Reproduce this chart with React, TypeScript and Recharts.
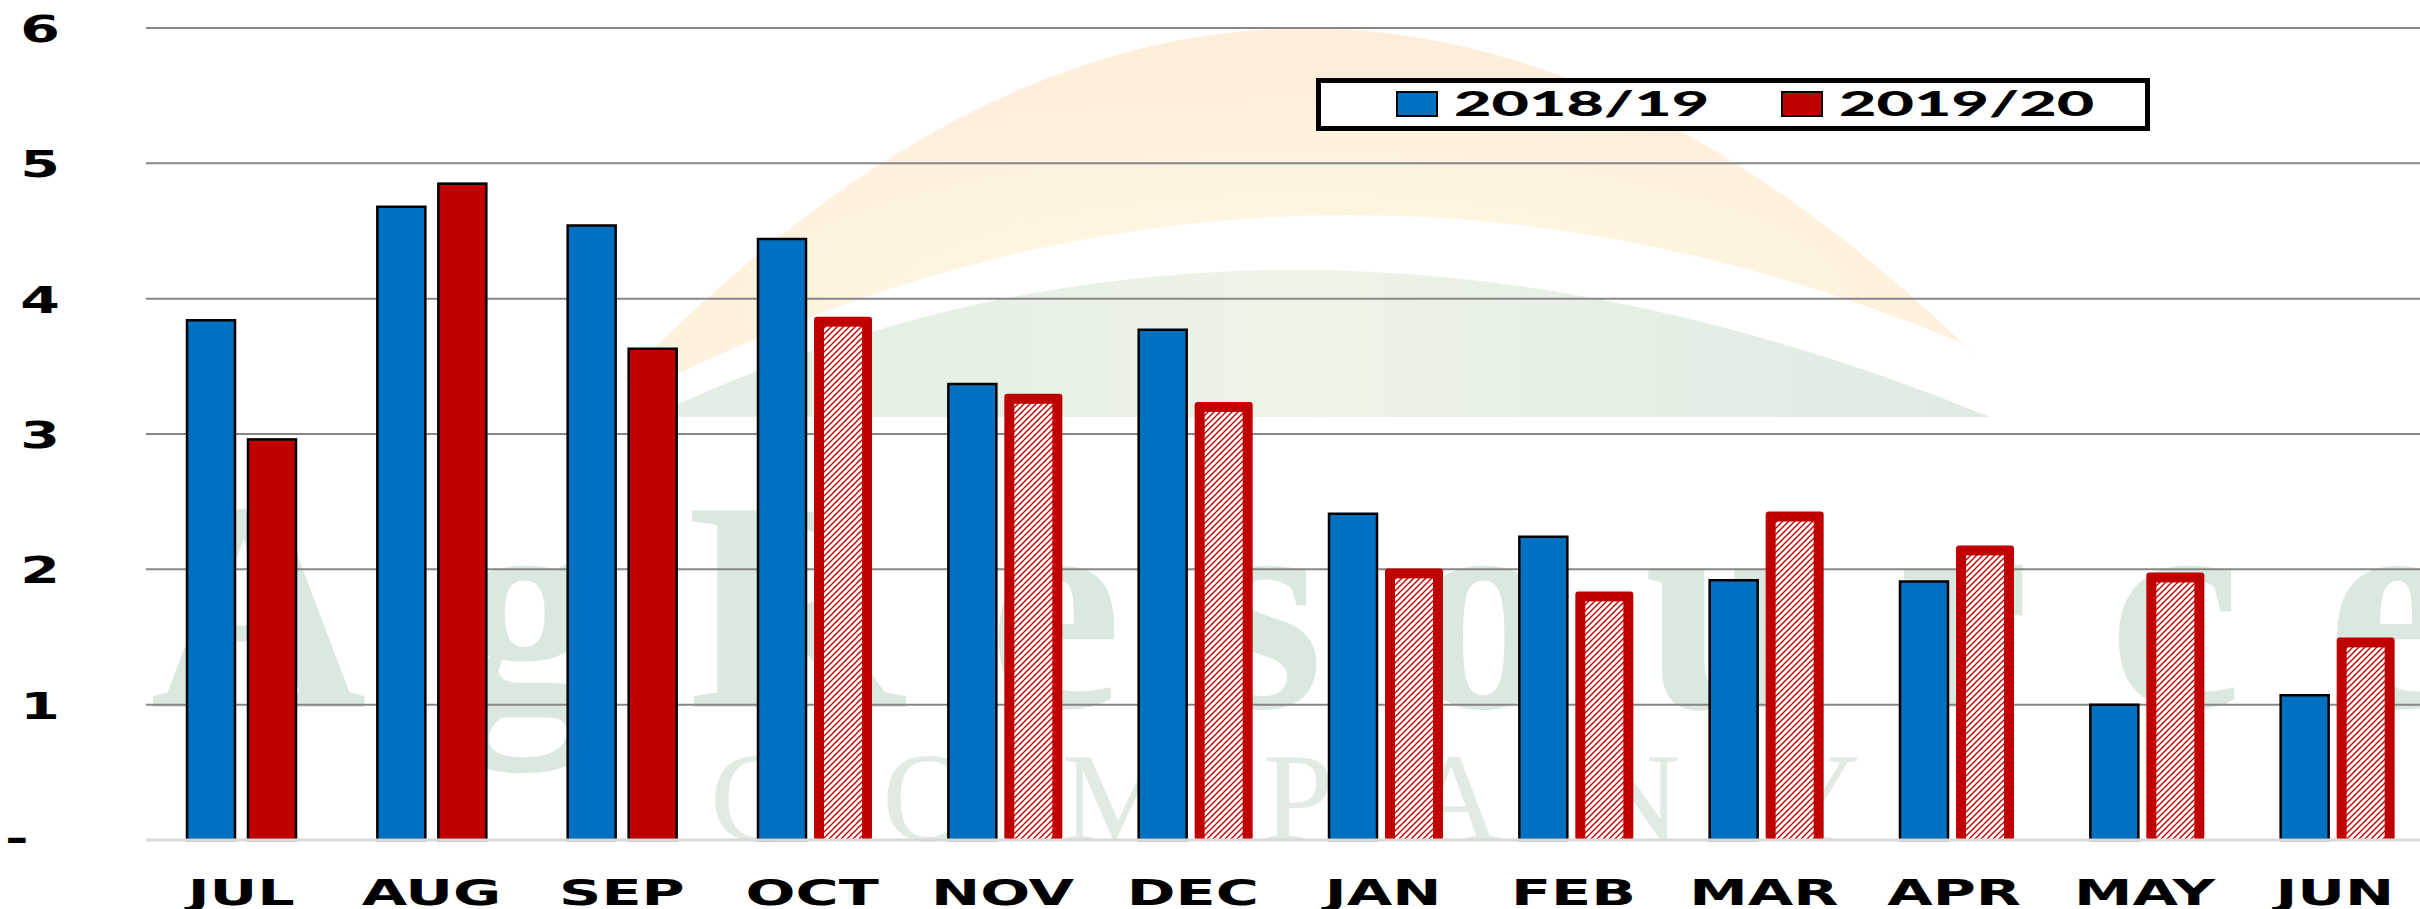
import React from "react"
import { BarChart, Bar, XAxis, YAxis, CartesianGrid, Legend } from "recharts"

// monthly values, marketing years Jul-Jun
const months = ["JUL", "AUG", "SEP", "OCT", "NOV", "DEC", "JAN", "FEB", "MAR", "APR", "MAY", "JUN"]
const season1819 = [3.84, 4.68, 4.54, 4.44, 3.37, 3.77, 2.41, 2.24, 1.92, 1.91, 1.0, 1.07]
const season1920 = [2.96, 4.85, 3.63, 3.83, 3.26, 3.2, 1.97, 1.8, 2.39, 2.14, 1.94, 1.46]
const actualMonths2019 = 3 // JUL-SEP reported, OCT onward projected (hatched)
const yTicks = [0, 1, 2, 3, 4, 5, 6]

const data = months.map((month, i) => ({ month, s1819: season1819[i], s1920: season1920[i] }))

const BLUE = "#0070C0"
const RED = "#C00000"

function MonthTick({ x, y, payload }: any) {
  return (
    <g transform={`translate(${x},${y + 65})`}>
      <text
        transform="scale(1.68,1)"
        textAnchor="middle"
        fontFamily="DejaVu Sans"
        fontWeight="bold"
        fontSize={35}
        fill="#000"
      >
        {payload.value}
      </text>
    </g>
  )
}

function ValueTick({ y, payload }: any) {
  const zero = payload.value === 0
  return (
    <g transform={zero ? `translate(5,${y + 11})` : `translate(60,${y + 14})`}>
      <text
        transform="scale(1.5,1)"
        textAnchor={zero ? "start" : "end"}
        fontFamily="DejaVu Sans"
        fontWeight="bold"
        fontSize={38}
        fill="#000"
      >
        {zero ? "-" : payload.value}
      </text>
    </g>
  )
}

// solid bars for reported months, thick red frame with hatching for projections
function SeasonBar(props: any) {
  const { x, y, width, height, index } = props
  if (index < actualMonths2019) {
    return <rect x={x} y={y} width={width} height={height} fill={RED} stroke="#000" strokeWidth={2.5} />
  }
  return (
    <g>
      <rect x={x - 5} y={y - 5} width={width + 10} height={height + 5} rx={3} fill={RED} />
      <rect x={x + 5} y={y + 5} width={width - 10} height={Math.max(height - 5, 0)} fill="url(#hatch)" />
    </g>
  )
}

function LegendBox({ payload }: any) {
  const xs = [81, 466]
  return (
    <svg width={834} height={53}>
      <rect x={2.5} y={2.5} width={829} height={48} fill="#fff" stroke="#000" strokeWidth={5} />
      {(payload || []).map((entry: any, i: number) => (
        <g key={entry.value}>
          <rect x={xs[i]} y={14} width={40} height={24} fill={i === 0 ? BLUE : RED} stroke="#000" strokeWidth={2} />
          <g transform={`translate(${xs[i] + 57},38)`}>
            <text transform="scale(1.9,1)" fontFamily="Lato" fontWeight={900} fontSize={34} fill="#000">
              {entry.value}
            </text>
          </g>
        </g>
      ))}
    </svg>
  )
}

// faint company logo behind the plot
function Watermark() {
  return (
    <svg width={2420} height={909} style={{ position: "absolute", left: 0, top: 0 }}>
      <defs>
        <radialGradient id="sun" cx="0.5" cy="0.75" r="0.6">
          <stop offset="0%" stopColor="#fffbe6" />
          <stop offset="100%" stopColor="#fdeedb" />
        </radialGradient>
        <linearGradient id="hill" x1="0" y1="0" x2="1" y2="0">
          <stop offset="0%" stopColor="#e3ede4" />
          <stop offset="50%" stopColor="#ecf4e6" />
          <stop offset="100%" stopColor="#dfeae3" />
        </linearGradient>
      </defs>
      <path d="M 625 378 Q 1290 -310 1975 355 L 1960 342 Q 1290 65 640 392 Z" fill="url(#sun)" />
      <path d="M 650 417 Q 1270 123 1990 417 Z" fill="url(#hill)" />
      <text
        x={150}
        y={707}
        textLength={2310}
        lengthAdjust="spacing"
        fontFamily="Liberation Serif"
        fontWeight="bold"
        fontSize={300}
        fill="#dbe8e0"
      >
        AgResource
      </text>
      <text
        x={710}
        y={841}
        textLength={1150}
        lengthAdjust="spacing"
        fontFamily="Liberation Serif"
        fontSize={128}
        fill="#e1ebe4"
      >
        COMPANY
      </text>
    </svg>
  )
}

export default function App() {
  return (
    <div style={{ position: "absolute", left: 0, top: 0, width: 2420, height: 909, overflow: "hidden", background: "#fff" }}>
      <Watermark />
      <div style={{ position: "absolute", left: 0, top: 0 }}>
        <BarChart
          width={2430}
          height={909}
          data={data}
          margin={{ top: 28, right: 0, left: 0, bottom: 0 }}
          barGap={13}
          barSize={48}
        >
          <defs>
            <pattern id="hatch" width="6" height="6" patternUnits="userSpaceOnUse">
              <rect width="6" height="6" fill="#fff" />
              <path d="M-1,1 l2,-2 M0,6 l6,-6 M5,7 l2,-2" stroke={RED} strokeWidth={1.4} />
            </pattern>
          </defs>
          <CartesianGrid vertical={false} stroke="#878787" strokeWidth={2} />
          <XAxis
            dataKey="month"
            height={69}
            interval={0}
            tickLine={false}
            tickSize={0}
            tickMargin={0}
            axisLine={{ stroke: "#d9d9d9", strokeWidth: 3 }}
            tick={<MonthTick />}
          />
          <YAxis
            width={146}
            domain={[0, 6]}
            ticks={yTicks}
            interval={0}
            axisLine={false}
            tickLine={false}
            tick={<ValueTick />}
          />
          <Legend
            content={<LegendBox />}
            verticalAlign="middle"
            align="center"
            wrapperStyle={{ left: 1316, top: 78, width: 834, height: 53 }}
          />
          <Bar dataKey="s1819" name="2018/19" fill={BLUE} stroke="#000" strokeWidth={2.5} isAnimationActive={false} />
          <Bar dataKey="s1920" name="2019/20" fill={RED} shape={SeasonBar} isAnimationActive={false} />
        </BarChart>
      </div>
    </div>
  )
}
